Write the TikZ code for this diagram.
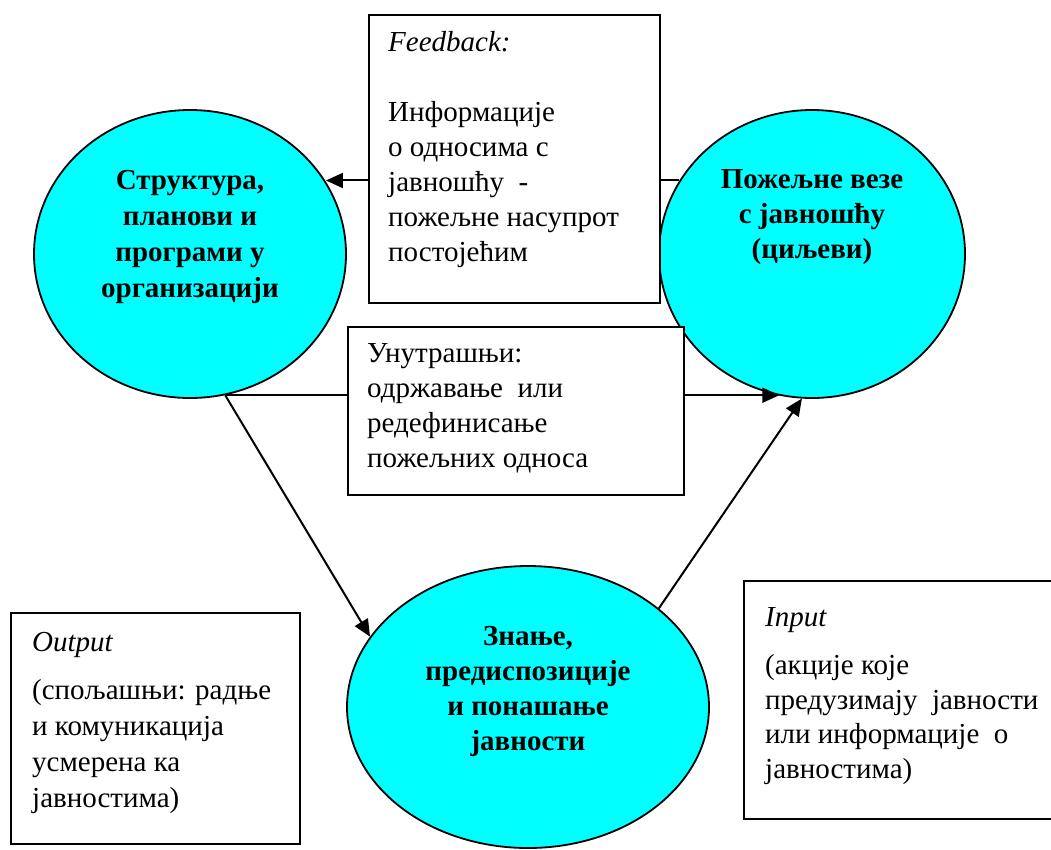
\documentclass[tikz,border=0pt]{standalone}
\usepackage{fontspec}
\setmainfont{Liberation Serif}
\usetikzlibrary{arrows.meta,shapes.geometric}
\definecolor{aqua}{RGB}{0,255,255}
\begin{document}
\begin{tikzpicture}[x=1pt,y=-1pt,
  circ/.style={ellipse, draw, fill=aqua, line width=1.8pt, inner sep=0pt},
  box/.style={draw, fill=white, line width=1.8pt, inner sep=0pt, anchor=north west},
  arr/.style={line width=2pt, -{Triangle[length=17pt,width=15pt]}},
  txt/.style={align=left, anchor=north west, inner sep=0pt, font=\fontsize{29}{35}\selectfont},
  ctxt/.style={align=center, inner sep=0pt, font=\fontsize{29}{36}\selectfont\bfseries}]
\useasboundingbox (0,0) rectangle (1051,849);
% circles
\node[circ, minimum width=312pt, minimum height=288pt] (leftC) at (190,254) {};
\node[circ, minimum width=306pt, minimum height=288pt] (rightC) at (812,254) {};
\node[circ, minimum width=362pt, minimum height=282pt] (botC) at (528,707) {};
% connectors
\draw[arr] (rightC.151.4) -- (rightC.151.4 -| leftC.28);
\coordinate (split) at (leftC.-76);
\draw[arr] (split) -- (split -| rightC.-103.5);
\draw[arr] (split) -- (botC.156);
\draw[arr] (botC.37.5) -- (rightC.-94);
% boxes
\node[box, minimum width=291pt, minimum height=288pt] (fb) at (368,14) {};
\node[box, minimum width=336pt, minimum height=168pt] (intl) at (347,326) {};
\node[box, minimum width=289pt, minimum height=231pt] (outb) at (10,612) {};
\node[box, minimum width=320pt, minimum height=238pt] (inb) at (743,580) {};
% texts
\node[txt] (fbt) at (388,31) {\textit{Feedback:}\\[35pt]Информације\\о односима с\\јавношћу\ \ -\\пожељне насупрот\\постојећим};
\node[txt] (intt) at (367,343) {Унутрашњи:\\одржавање\ \ или\\редефинисање\\пожељних односа};
\node[txt, font=\fontsize{29}{36}\selectfont] (outt) at (32,632) {\textit{Output}\\[12pt](спољашњи: радње\\и комуникација\\усмерена ка\\јавностима)};
\node[txt, font=\fontsize{29}{34.5}\selectfont] (int) at (765,607) {\textit{Input}\\[14pt](акције које\\предузимају\ \ јавности\\или информације\ \ о\\јавностима)};
\node[ctxt] (lct) at (190,237) {Структура,\\планови и\\програми у\\организацији};
\node[ctxt, font=\fontsize{29}{35}\selectfont\bfseries] (rct) at (812,217) {Пожељне везе\\с јавношћу\\(циљеви)};
\node[ctxt, font=\fontsize{29}{35}\selectfont\bfseries] (bct) at (528,691) {Знање,\\предиспозиције\\и понашање\\јавности};
\end{tikzpicture}
\end{document}
